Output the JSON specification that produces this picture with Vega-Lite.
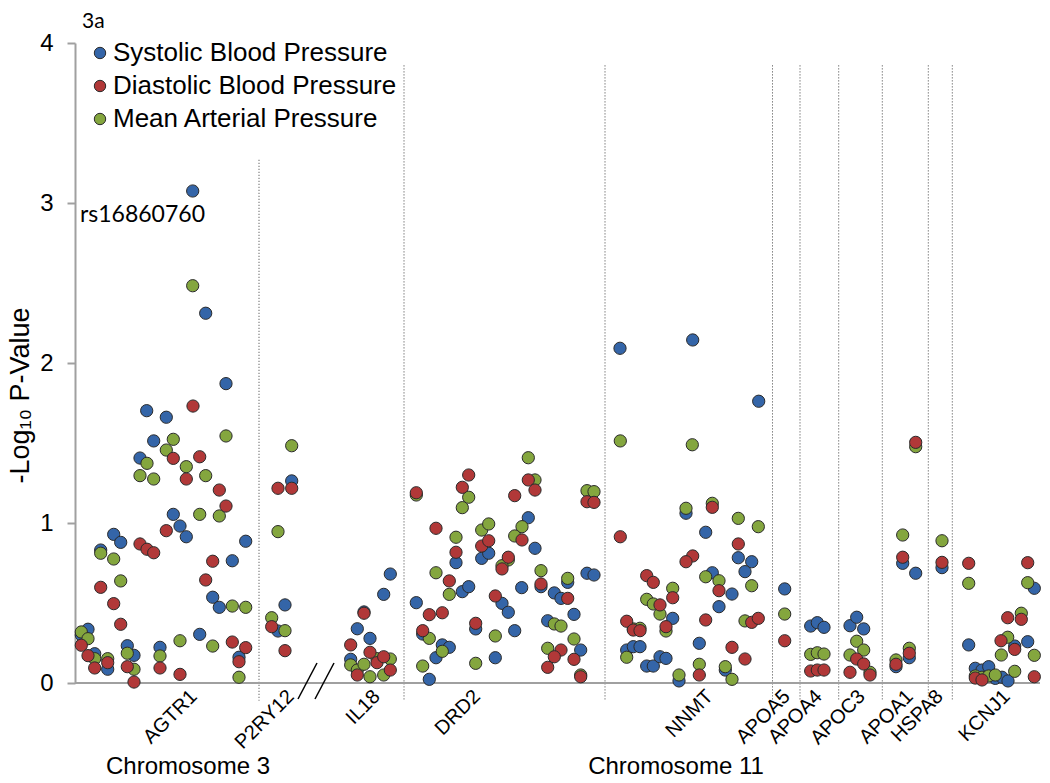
{
  "$schema": "https://vega.github.io/schema/vega-lite/v6.json",
  "width": 965,
  "height": 640,
  "autosize": {"type": "none"},
  "padding": {"left": 75, "top": 43, "right": 10, "bottom": 100},
  "background": "white",
  "config": {"view": {"stroke": null}, "font": "Liberation Sans"},
  "datasets": {
    "pts": [
      {"x":146.7,"y":1.702,"s":"S"},{"x":166.3,"y":1.661,"s":"S"},{"x":153.7,"y":1.513,"s":"S"},{"x":140,"y":1.406,"s":"S"},{"x":173.3,"y":1.054,"s":"S"},{"x":180,"y":0.981,"s":"S"},{"x":186.3,"y":0.914,"s":"S"},{"x":113.7,"y":0.929,"s":"S"},{"x":120.7,"y":0.879,"s":"S"},{"x":245.7,"y":0.886,"s":"S"},{"x":100.7,"y":0.831,"s":"S"},{"x":232.3,"y":0.764,"s":"S"},{"x":212.7,"y":0.536,"s":"S"},{"x":219.3,"y":0.473,"s":"S"},{"x":88,"y":0.336,"s":"S"},{"x":81.3,"y":0.3,"s":"S"},{"x":199.7,"y":0.304,"s":"S"},{"x":94.7,"y":0.183,"s":"S"},{"x":107.7,"y":0.086,"s":"S"},{"x":127.3,"y":0.233,"s":"S"},{"x":134,"y":0.173,"s":"S"},{"x":160,"y":0.223,"s":"S"},{"x":239,"y":0.161,"s":"S"},{"x":192.7,"y":3.075,"s":"S"},{"x":205.7,"y":2.311,"s":"S"},{"x":226,"y":1.871,"s":"S"},
      {"x":291.7,"y":1.263,"s":"S"},{"x":285,"y":0.488,"s":"S"},{"x":278,"y":0.325,"s":"S"},
      {"x":390.3,"y":0.681,"s":"S"},{"x":383.7,"y":0.554,"s":"S"},{"x":364,"y":0.444,"s":"S"},{"x":357.3,"y":0.339,"s":"S"},{"x":370,"y":0.279,"s":"S"},{"x":350.7,"y":0.148,"s":"S"},
      {"x":481.7,"y":0.779,"s":"S"},{"x":488.7,"y":0.811,"s":"S"},{"x":528.3,"y":1.033,"s":"S"},{"x":535,"y":0.842,"s":"S"},{"x":456,"y":0.752,"s":"S"},{"x":462.3,"y":0.571,"s":"S"},{"x":468.7,"y":0.602,"s":"S"},{"x":416.3,"y":0.502,"s":"S"},{"x":502,"y":0.498,"s":"S"},{"x":508.3,"y":0.442,"s":"S"},{"x":521.7,"y":0.596,"s":"S"},{"x":541,"y":0.602,"s":"S"},{"x":567.7,"y":0.629,"s":"S"},{"x":587,"y":0.686,"s":"S"},{"x":594,"y":0.675,"s":"S"},{"x":554.3,"y":0.563,"s":"S"},{"x":561,"y":0.529,"s":"S"},{"x":574,"y":0.429,"s":"S"},{"x":547.7,"y":0.389,"s":"S"},{"x":475.7,"y":0.338,"s":"S"},{"x":514.7,"y":0.327,"s":"S"},{"x":422.7,"y":0.306,"s":"S"},{"x":442.3,"y":0.238,"s":"S"},{"x":449.3,"y":0.223,"s":"S"},{"x":436,"y":0.158,"s":"S"},{"x":429.3,"y":0.023,"s":"S"},{"x":495.3,"y":0.158,"s":"S"},{"x":580.7,"y":0.206,"s":"S"},
      {"x":620,"y":2.092,"s":"S"},{"x":692.7,"y":2.144,"s":"S"},{"x":758.7,"y":1.761,"s":"S"},{"x":686,"y":1.061,"s":"S"},{"x":705.7,"y":0.942,"s":"S"},{"x":738.3,"y":0.783,"s":"S"},{"x":751.7,"y":0.758,"s":"S"},{"x":745,"y":0.696,"s":"S"},{"x":712.3,"y":0.689,"s":"S"},{"x":732,"y":0.556,"s":"S"},{"x":719,"y":0.477,"s":"S"},{"x":672.7,"y":0.404,"s":"S"},{"x":626.7,"y":0.206,"s":"S"},{"x":633.3,"y":0.227,"s":"S"},{"x":640,"y":0.227,"s":"S"},{"x":646.7,"y":0.106,"s":"S"},{"x":653.3,"y":0.106,"s":"S"},{"x":660,"y":0.164,"s":"S"},{"x":666,"y":0.154,"s":"S"},{"x":699.3,"y":0.248,"s":"S"},{"x":725.3,"y":0.081,"s":"S"},{"x":679,"y":0.013,"s":"S"},
      {"x":784.7,"y":0.588,"s":"S"},{"x":810.7,"y":0.356,"s":"S"},{"x":817.3,"y":0.377,"s":"S"},{"x":824,"y":0.348,"s":"S"},{"x":850,"y":0.358,"s":"S"},{"x":856.7,"y":0.411,"s":"S"},{"x":863.7,"y":0.338,"s":"S"},{"x":915.7,"y":0.686,"s":"S"},{"x":902.7,"y":0.748,"s":"S"},{"x":896,"y":0.102,"s":"S"},{"x":909.3,"y":0.158,"s":"S"},{"x":942,"y":0.721,"s":"S"},
      {"x":968.7,"y":0.238,"s":"S"},{"x":975.3,"y":0.092,"s":"S"},{"x":982,"y":0.081,"s":"S"},{"x":988.7,"y":0.102,"s":"S"},{"x":995.3,"y":0.029,"s":"S"},{"x":1002,"y":0.036,"s":"S"},{"x":1008,"y":0.013,"s":"S"},{"x":1014.7,"y":0.231,"s":"S"},{"x":1027.7,"y":0.258,"s":"S"},{"x":1034.3,"y":0.592,"s":"S"},
      {"x":193,"y":1.731,"s":"D"},{"x":173.3,"y":1.404,"s":"D"},{"x":199.7,"y":1.414,"s":"D"},{"x":186.3,"y":1.275,"s":"D"},{"x":219.3,"y":1.206,"s":"D"},{"x":226,"y":1.106,"s":"D"},{"x":166.3,"y":0.952,"s":"D"},{"x":140,"y":0.869,"s":"D"},{"x":147,"y":0.836,"s":"D"},{"x":153.7,"y":0.814,"s":"D"},{"x":212.7,"y":0.761,"s":"D"},{"x":100.7,"y":0.598,"s":"D"},{"x":205.7,"y":0.644,"s":"D"},{"x":113.7,"y":0.496,"s":"D"},{"x":120.7,"y":0.367,"s":"D"},{"x":81.3,"y":0.236,"s":"D"},{"x":232.3,"y":0.256,"s":"D"},{"x":245.7,"y":0.221,"s":"D"},{"x":88,"y":0.171,"s":"D"},{"x":94.7,"y":0.094,"s":"D"},{"x":107.7,"y":0.127,"s":"D"},{"x":127.3,"y":0.102,"s":"D"},{"x":134,"y":0.006,"s":"D"},{"x":160,"y":0.094,"s":"D"},{"x":180,"y":0.054,"s":"D"},{"x":239,"y":0.133,"s":"D"},
      {"x":278,"y":1.217,"s":"D"},{"x":291.7,"y":1.217,"s":"D"},{"x":271.7,"y":0.352,"s":"D"},{"x":285,"y":0.202,"s":"D"},
      {"x":364,"y":0.436,"s":"D"},{"x":350.7,"y":0.238,"s":"D"},{"x":370,"y":0.192,"s":"D"},{"x":357.3,"y":0.05,"s":"D"},{"x":377,"y":0.127,"s":"D"},{"x":383.7,"y":0.164,"s":"D"},{"x":390.3,"y":0.081,"s":"D"},
      {"x":468.7,"y":1.3,"s":"D"},{"x":528.3,"y":1.269,"s":"D"},{"x":535,"y":1.206,"s":"D"},{"x":462.3,"y":1.223,"s":"D"},{"x":416.3,"y":1.189,"s":"D"},{"x":514.7,"y":1.171,"s":"D"},{"x":587,"y":1.133,"s":"D"},{"x":594,"y":1.129,"s":"D"},{"x":436,"y":0.967,"s":"D"},{"x":481.7,"y":0.856,"s":"D"},{"x":488.7,"y":0.889,"s":"D"},{"x":522,"y":0.894,"s":"D"},{"x":456,"y":0.817,"s":"D"},{"x":508.3,"y":0.786,"s":"D"},{"x":502,"y":0.713,"s":"D"},{"x":449.3,"y":0.638,"s":"D"},{"x":429.3,"y":0.427,"s":"D"},{"x":442.3,"y":0.439,"s":"D"},{"x":495.3,"y":0.544,"s":"D"},{"x":541,"y":0.619,"s":"D"},{"x":567.7,"y":0.529,"s":"D"},{"x":475.7,"y":0.373,"s":"D"},{"x":422.7,"y":0.327,"s":"D"},{"x":561,"y":0.206,"s":"D"},{"x":554.3,"y":0.164,"s":"D"},{"x":574,"y":0.148,"s":"D"},{"x":547.7,"y":0.098,"s":"D"},{"x":580.7,"y":0.039,"s":"D"},
      {"x":620.3,"y":0.914,"s":"D"},{"x":712.3,"y":1.098,"s":"D"},{"x":738.3,"y":0.869,"s":"D"},{"x":692.7,"y":0.794,"s":"D"},{"x":686,"y":0.758,"s":"D"},{"x":719,"y":0.577,"s":"D"},{"x":646.7,"y":0.671,"s":"D"},{"x":653.3,"y":0.629,"s":"D"},{"x":672.7,"y":0.533,"s":"D"},{"x":660,"y":0.488,"s":"D"},{"x":666,"y":0.352,"s":"D"},{"x":626.7,"y":0.386,"s":"D"},{"x":633.3,"y":0.331,"s":"D"},{"x":640,"y":0.327,"s":"D"},{"x":705.7,"y":0.394,"s":"D"},{"x":751.7,"y":0.379,"s":"D"},{"x":758.3,"y":0.404,"s":"D"},{"x":732,"y":0.223,"s":"D"},{"x":745,"y":0.15,"s":"D"},{"x":699.3,"y":0.05,"s":"D"},
      {"x":784.7,"y":0.264,"s":"D"},{"x":810.7,"y":0.075,"s":"D"},{"x":817.3,"y":0.081,"s":"D"},{"x":824,"y":0.081,"s":"D"},{"x":856.7,"y":0.15,"s":"D"},{"x":863.7,"y":0.119,"s":"D"},{"x":850,"y":0.067,"s":"D"},{"x":870,"y":0.05,"s":"D"},{"x":915.7,"y":1.504,"s":"D"},{"x":902.7,"y":0.786,"s":"D"},{"x":896,"y":0.117,"s":"D"},{"x":909.3,"y":0.186,"s":"D"},{"x":942,"y":0.754,"s":"D"},
      {"x":968.7,"y":0.748,"s":"D"},{"x":975.3,"y":0.031,"s":"D"},{"x":982,"y":0.019,"s":"D"},{"x":1001,"y":0.264,"s":"D"},{"x":1007.7,"y":0.408,"s":"D"},{"x":1014.7,"y":0.21,"s":"D"},{"x":1021.3,"y":0.398,"s":"D"},{"x":1027.7,"y":0.752,"s":"D"},{"x":1034.3,"y":0.039,"s":"D"},
      {"x":192.7,"y":2.483,"s":"M"},{"x":173.3,"y":1.523,"s":"M"},{"x":166.3,"y":1.456,"s":"M"},{"x":147,"y":1.373,"s":"M"},{"x":186.3,"y":1.352,"s":"M"},{"x":226,"y":1.544,"s":"M"},{"x":140,"y":1.296,"s":"M"},{"x":153.7,"y":1.275,"s":"M"},{"x":205.7,"y":1.296,"s":"M"},{"x":199.7,"y":1.054,"s":"M"},{"x":219.3,"y":1.044,"s":"M"},{"x":100.7,"y":0.811,"s":"M"},{"x":113.7,"y":0.775,"s":"M"},{"x":120.7,"y":0.638,"s":"M"},{"x":232.3,"y":0.481,"s":"M"},{"x":245.7,"y":0.473,"s":"M"},{"x":81.3,"y":0.319,"s":"M"},{"x":88,"y":0.277,"s":"M"},{"x":180,"y":0.264,"s":"M"},{"x":212.7,"y":0.231,"s":"M"},{"x":94.7,"y":0.152,"s":"M"},{"x":107.7,"y":0.152,"s":"M"},{"x":127.3,"y":0.186,"s":"M"},{"x":134,"y":0.086,"s":"M"},{"x":160,"y":0.169,"s":"M"},{"x":239,"y":0.036,"s":"M"},
      {"x":291.7,"y":1.483,"s":"M"},{"x":278,"y":0.946,"s":"M"},{"x":271.7,"y":0.408,"s":"M"},{"x":285,"y":0.327,"s":"M"},
      {"x":350.7,"y":0.113,"s":"M"},{"x":357.3,"y":0.081,"s":"M"},{"x":364,"y":0.117,"s":"M"},{"x":377,"y":0.152,"s":"M"},{"x":390.3,"y":0.15,"s":"M"},{"x":370,"y":0.039,"s":"M"},{"x":383.7,"y":0.05,"s":"M"},
      {"x":528.3,"y":1.408,"s":"M"},{"x":535,"y":1.269,"s":"M"},{"x":468.7,"y":1.161,"s":"M"},{"x":462.3,"y":1.096,"s":"M"},{"x":416.3,"y":1.175,"s":"M"},{"x":587,"y":1.202,"s":"M"},{"x":594,"y":1.196,"s":"M"},{"x":456,"y":0.911,"s":"M"},{"x":481.7,"y":0.956,"s":"M"},{"x":488.7,"y":0.994,"s":"M"},{"x":522,"y":0.977,"s":"M"},{"x":514.7,"y":0.919,"s":"M"},{"x":508.3,"y":0.769,"s":"M"},{"x":502,"y":0.733,"s":"M"},{"x":436,"y":0.689,"s":"M"},{"x":541,"y":0.702,"s":"M"},{"x":567.7,"y":0.654,"s":"M"},{"x":449.3,"y":0.554,"s":"M"},{"x":554.3,"y":0.369,"s":"M"},{"x":561,"y":0.356,"s":"M"},{"x":495.3,"y":0.294,"s":"M"},{"x":429.3,"y":0.279,"s":"M"},{"x":442.3,"y":0.198,"s":"M"},{"x":422.7,"y":0.106,"s":"M"},{"x":475.7,"y":0.123,"s":"M"},{"x":574,"y":0.275,"s":"M"},{"x":547.7,"y":0.217,"s":"M"},{"x":580.7,"y":0.05,"s":"M"},
      {"x":620.3,"y":1.513,"s":"M"},{"x":692.3,"y":1.489,"s":"M"},{"x":686,"y":1.092,"s":"M"},{"x":712.3,"y":1.123,"s":"M"},{"x":738.3,"y":1.029,"s":"M"},{"x":758.3,"y":0.977,"s":"M"},{"x":751.7,"y":0.608,"s":"M"},{"x":705.7,"y":0.664,"s":"M"},{"x":719,"y":0.639,"s":"M"},{"x":672.7,"y":0.592,"s":"M"},{"x":646.7,"y":0.523,"s":"M"},{"x":653.3,"y":0.494,"s":"M"},{"x":660,"y":0.431,"s":"M"},{"x":666,"y":0.325,"s":"M"},{"x":633.3,"y":0.338,"s":"M"},{"x":640,"y":0.342,"s":"M"},{"x":745,"y":0.388,"s":"M"},{"x":626.7,"y":0.161,"s":"M"},{"x":699.3,"y":0.117,"s":"M"},{"x":725.3,"y":0.102,"s":"M"},{"x":732,"y":0.023,"s":"M"},{"x":679,"y":0.05,"s":"M"},
      {"x":784.7,"y":0.431,"s":"M"},{"x":810.7,"y":0.179,"s":"M"},{"x":817.3,"y":0.189,"s":"M"},{"x":824,"y":0.181,"s":"M"},{"x":856.7,"y":0.261,"s":"M"},{"x":863.7,"y":0.206,"s":"M"},{"x":850,"y":0.175,"s":"M"},{"x":870,"y":0.067,"s":"M"},{"x":915.7,"y":1.477,"s":"M"},{"x":902.7,"y":0.925,"s":"M"},{"x":896,"y":0.144,"s":"M"},{"x":909.3,"y":0.217,"s":"M"},{"x":942,"y":0.889,"s":"M"},
      {"x":968.7,"y":0.623,"s":"M"},{"x":975.3,"y":0.044,"s":"M"},{"x":982,"y":0.036,"s":"M"},{"x":988.7,"y":0.044,"s":"M"},{"x":995.3,"y":0.05,"s":"M"},{"x":1007.7,"y":0.286,"s":"M"},{"x":1001.3,"y":0.175,"s":"M"},{"x":1014.7,"y":0.073,"s":"M"},{"x":1021.3,"y":0.436,"s":"M"},{"x":1027.7,"y":0.627,"s":"M"},{"x":1034.3,"y":0.173,"s":"M"}
    ],
    "dividers": [
      {"x":259,"top":3.27,"bottom":-0.11},{"x":404,"top":3.86,"bottom":-0.11},{"x":605,"top":3.86,"bottom":-0.11},{"x":772.5,"top":3.86,"bottom":-0.11},{"x":800,"top":3.86,"bottom":-0.11},{"x":838.7,"top":3.86,"bottom":-0.11},{"x":882.3,"top":3.86,"bottom":-0.11},{"x":928.3,"top":3.86,"bottom":-0.11},{"x":952.3,"top":3.86,"bottom":-0.11}
    ],
    "genes": [
      {"x":194,"gene":"AGTR1"},{"x":291,"gene":"P2RY12"},{"x":377,"gene":"IL18"},{"x":477,"gene":"DRD2"},{"x":710,"gene":"NNMT"},{"x":787,"gene":"APOA5"},{"x":819,"gene":"APOA4"},{"x":862,"gene":"APOC3"},{"x":910,"gene":"APOA1"},{"x":940,"gene":"HSPA8"},{"x":1007,"gene":"KCNJ1"}
    ],
    "chrom": [
      {"x":188,"label":"Chromosome 3"},{"x":676,"label":"Chromosome 11"}
    ],
    "slashes": [
      {"x":317,"y":0.125,"x2":298,"y2":-0.1},{"x":334,"y":0.125,"x2":315,"y2":-0.1}
    ]
  },
  "layer": [
    {
      "data": {"name": "dividers"},
      "mark": {"type": "rule", "color": "#404040", "strokeWidth": 1, "strokeDash": [1, 2]},
      "encoding": {
        "x": {"field": "x", "type": "quantitative", "scale": {"domain": [75, 1040], "nice": false, "zero": false}, "axis": null},
        "y": {"field": "top", "type": "quantitative", "scale": {"domain": [0, 4], "nice": false}},
        "y2": {"field": "bottom"}
      }
    },
    {
      "data": {"values": [{}]},
      "mark": {"type": "rule", "color": "#a0a0a0", "strokeWidth": 2},
      "encoding": {"y": {"datum": 0, "type": "quantitative"}}
    },
    {
      "data": {"name": "slashes"},
      "mark": {"type": "rule", "color": "#000000", "strokeWidth": 1.5},
      "encoding": {
        "x": {"field": "x", "type": "quantitative"},
        "y": {"field": "y", "type": "quantitative"},
        "x2": {"field": "x2"},
        "y2": {"field": "y2"}
      }
    },
    {
      "data": {"name": "pts"},
      "mark": {"type": "point", "filled": true, "stroke": "#2b2b2b", "strokeWidth": 1, "opacity": 1, "size": 150},
      "encoding": {
        "x": {"field": "x", "type": "quantitative"},
        "y": {"field": "y", "type": "quantitative",
          "axis": {"values": [0, 1, 2, 3, 4], "format": "d", "grid": false, "domainColor": "#a0a0a0", "domainWidth": 2, "tickColor": "#a0a0a0", "tickWidth": 2, "tickSize": 8, "labelPadding": 14, "labelFontSize": 24, "labelColor": "#000000", "labelFont": "Liberation Sans",
            "title": "-Log₁₀ P-Value", "titleFontSize": 27, "titleFontWeight": "normal", "titleFont": "Liberation Sans", "titleColor": "#000000", "titleX": -55, "titleY": 352, "titleAngle": -90, "titleAlign": "center", "titleBaseline": "middle", "titleLimit": 0}},
        "color": {"field": "s", "type": "nominal",
          "scale": {"domain": ["S", "D", "M"], "range": ["#3465a8", "#b13838", "#84a63e"]},
          "legend": {"orient": "none", "legendX": 12, "legendY": -3, "title": null, "labelFontSize": 26, "labelFont": "Liberation Sans", "labelColor": "#000000", "labelLimit": 0, "symbolSize": 130, "symbolType": "circle", "symbolStrokeColor": "#2b2b2b", "symbolStrokeWidth": 1, "rowPadding": 7, "labelOffset": 0,
            "labelExpr": "datum.label == 'S' ? 'Systolic Blood Pressure' : datum.label == 'D' ? 'Diastolic Blood Pressure' : 'Mean Arterial Pressure'"}},
        "order": {"field": "s", "sort": "descending"}
      }
    },
    {
      "data": {"name": "genes"},
      "mark": {"type": "text", "angle": 315, "align": "right", "baseline": "middle", "fontSize": 20, "font": "Liberation Sans", "color": "#000000"},
      "encoding": {
        "x": {"field": "x", "type": "quantitative"},
        "y": {"datum": -0.065, "type": "quantitative"},
        "text": {"field": "gene"}
      }
    },
    {
      "data": {"name": "chrom"},
      "mark": {"type": "text", "align": "center", "baseline": "middle", "fontSize": 24, "font": "Liberation Sans", "color": "#000000"},
      "encoding": {
        "x": {"field": "x", "type": "quantitative"},
        "y": {"datum": -0.525, "type": "quantitative"},
        "text": {"field": "label"}
      }
    },
    {
      "data": {"values": [{"x": 80, "y": 2.925, "label": "rs16860760"}, {"x": 82, "y": 4.13, "label": "3a"}]},
      "mark": {"type": "text", "align": "left", "baseline": "middle", "font": "Lato", "color": "#000000"},
      "encoding": {
        "x": {"field": "x", "type": "quantitative"},
        "y": {"field": "y", "type": "quantitative"},
        "text": {"field": "label"},
        "size": {"condition": {"test": "datum.label == '3a'", "value": 21}, "value": 23}
      }
    }
  ]
}
